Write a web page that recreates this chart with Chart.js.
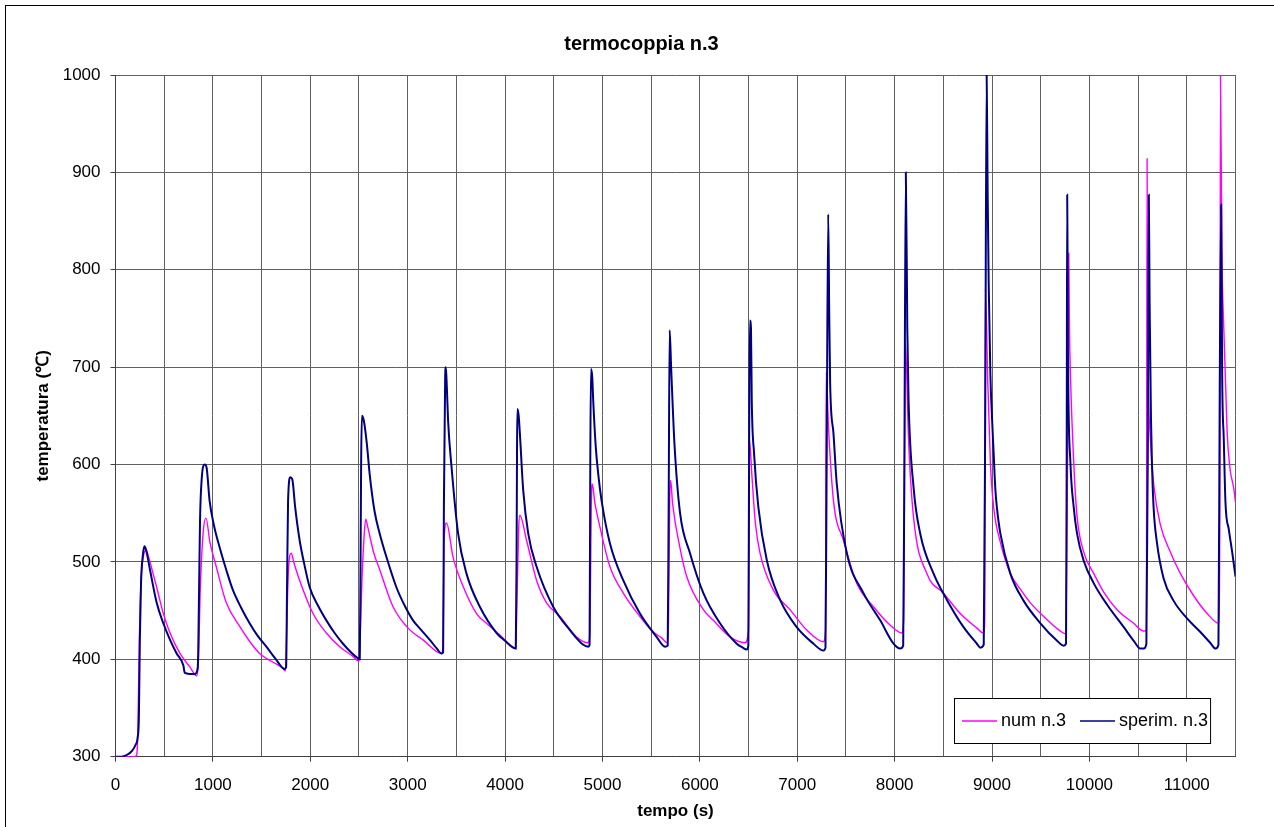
<!DOCTYPE html>
<html>
<head>
<meta charset="utf-8">
<title>termocoppia n.3</title>
<script src="https://cdn.jsdelivr.net/npm/chart.js@4.4.1/dist/chart.umd.min.js"></script>
<style>
  html, body { margin: 0; padding: 0; background: #fff; }
  #wrap { position: relative; width: 1274px; height: 827px; overflow: hidden; background: #fff; }
  #c { position: absolute; left: 0; top: 0; }
  #frame { position: absolute; left: 5px; top: 5px; width: 1400px; height: 1000px;
           border-left: 1px solid #000; border-top: 1px solid #000; pointer-events: none; }
</style>
</head>
<body>
<div id="wrap">
  <canvas id="c" width="1274" height="827"></canvas>
  <div id="frame"></div>
</div>
<script>
// Series labels
const seriesNames = ['num n.3', 'sperim. n.3'];

// Axis ranges and tick steps
const xRange = [0, 11500];
const xStep = 500;        // grid every 500 s
const xLabelStep = 1000;  // labels every 1000 s
const yRange = [300, 1000];
const yStep = 100;

// Numerical model (num n.3): time [s] and temperature [°C]
const numTime = [
  0, 200, 218, 230, 245, 262, 285, 315, 340, 354, 423, 491, 560, 662, 765, 834,
  852, 870, 900, 929, 970, 1035, 1138, 1274, 1380, 1480, 1600, 1717, 1745,
  1760, 1775, 1805, 1830, 1891, 2028, 2165, 2302, 2439, 2500,
  2512, 2530, 2555, 2569, 2590, 2650, 2713, 2850, 3004, 3158, 3347,
  3365, 3372, 3399, 3466, 3569, 3707, 3810, 3947, 4110,
  4120, 4140, 4152, 4221, 4324, 4426, 4563, 4735, 4854,
  4872, 4885, 4896, 4920, 4974, 5077, 5214, 5385, 5522, 5608, 5665,
  5678, 5690, 5700, 5720, 5797, 5865, 6036, 6139, 6310, 6464,
  6500, 6510, 6533, 6570, 6618, 6755, 6926, 7098, 7269,
  7290, 7297, 7321, 7372, 7475, 7612, 7783, 7955, 8074,
  8092, 8111, 8143, 8194, 8331, 8502, 8674, 8845, 8913,
  8925, 8932, 8955, 8983, 9017, 9086, 9188, 9291, 9394, 9531, 9702, 9760,
  9775, 9788, 9795, 9805, 9839, 9873, 9942, 10045, 10147, 10284, 10455, 10558, 10585,
  10592, 10599, 10627, 10661, 10729, 10832, 10935, 11072, 11209, 11329,
  11340, 11346, 11360, 11380, 11414, 11442, 11483, 11500
];
const numTemp = [
  300, 300, 302, 330, 420, 480, 505, 512, 505, 500, 474, 447, 427, 406, 392, 383,
  400, 470, 530, 545, 520, 495, 458, 434, 418, 406, 398, 391, 388,
  440, 490, 509, 500, 481, 447, 427, 413, 403, 398,
  420, 480, 530, 544, 536, 510, 492, 454, 432, 420, 406,
  420, 519, 540, 505, 475, 447, 437, 425, 411,
  450, 535, 548, 522, 481, 458, 444, 423, 417,
  430, 560, 580, 562, 536, 495, 468, 444, 428, 422, 417,
  440, 560, 584, 560, 514, 485, 451, 440, 423, 417,
  430, 625, 591, 540, 509, 471, 451, 430, 418,
  430, 695, 638, 563, 522, 478, 454, 435, 427,
  440, 724, 625, 546, 488, 468, 447, 432, 427,
  440, 780, 690, 602, 556, 520, 488, 472, 458, 444, 429, 426,
  600, 817, 740, 693, 602, 547, 510, 488, 469, 451, 437, 429, 430,
  914, 739, 625, 579, 538, 510, 488, 465, 447, 437,
  600, 1000, 820, 739, 634, 597, 575, 561
];

// Measured data (sperim. n.3): time [s] and temperature [°C]
const sperimTime = [
  0, 60, 120, 170, 205, 228, 240, 250, 262, 282, 298, 315, 354, 423, 491, 560, 628, 696, 712, 760, 816,
  845, 858, 868, 885, 915, 935, 966, 1010, 1069, 1140, 1206, 1290, 1377, 1460, 1549, 1640, 1737, 1752,
  1762, 1772, 1795, 1815, 1845, 1891, 1940, 1994, 2080, 2165, 2250, 2336, 2420, 2490, 2508,
  2515, 2522, 2530, 2550, 2580, 2610, 2660, 2713, 2782, 2884, 2970, 3055, 3140, 3227, 3300, 3347, 3364,
  3372, 3385, 3392, 3402, 3415, 3450, 3518, 3604, 3741, 3913, 4000, 4084, 4110,
  4118, 4123, 4127, 4140, 4152, 4186, 4238, 4324, 4494, 4666, 4803, 4854, 4868,
  4875, 4882, 4895, 4905, 4930, 4957, 4991, 5077, 5214, 5385, 5556, 5642, 5670,
  5680, 5690, 5705, 5740, 5797, 5899, 6036, 6207, 6379, 6440, 6481, 6498,
  6506, 6514, 6525, 6533, 6557, 6601, 6687, 6824, 6995, 7167, 7269, 7290,
  7302, 7318, 7328, 7338, 7372, 7406, 7509, 7680, 7852, 7989, 8057, 8088,
  8100, 8115, 8130, 8143, 8194, 8263, 8400, 8537, 8708, 8845, 8880, 8915,
  8930, 8945, 8955, 8966, 8983, 9000, 9017, 9034, 9050, 9086, 9188, 9325, 9497, 9668, 9735, 9760,
  9767, 9772, 9782, 9805, 9839, 9873, 9942, 10045, 10182, 10353, 10455, 10524, 10558, 10585,
  10600, 10610, 10618, 10632, 10642, 10659, 10693, 10762, 10865, 11002, 11139, 11240, 11295, 11325,
  11338, 11353, 11363, 11380, 11397, 11432, 11466, 11500
];
const sperimTemp = [
  300, 300, 302, 306, 312, 320, 340, 420, 478, 508, 516, 512, 492, 458, 437, 420, 406, 394, 386, 385, 385,
  392, 470, 543, 585, 600, 597, 563, 538, 515, 491, 471, 453, 437, 424, 413, 401, 390, 392,
  480, 563, 587, 585, 556, 522, 497, 474, 455, 440, 427, 416, 407, 401, 400,
  480, 600, 650, 645, 622, 590, 552, 529, 505, 474, 455, 440, 430, 420, 411, 406, 407,
  560, 690, 700, 680, 645, 598, 529, 488, 454, 427, 419, 412, 411,
  500, 620, 657, 650, 632, 574, 529, 495, 454, 430, 415, 413, 415,
  600, 698, 690, 666, 620, 590, 563, 519, 481, 447, 423, 413, 414,
  560, 738, 700, 620, 550, 509, 468, 437, 416, 412, 410, 414,
  620, 748, 740, 666, 611, 556, 502, 461, 433, 416, 409, 412,
  600, 857, 760, 683, 632, 580, 509, 468, 440, 416, 411, 414,
  600, 900, 740, 666, 577, 529, 488, 461, 433, 416, 412, 415,
  650, 1000, 880, 785, 693, 648, 611, 575, 556, 529, 488, 460, 437, 419, 414, 416,
  620, 877, 693, 602, 556, 529, 501, 478, 456, 433, 419, 411, 411, 416,
  620, 877, 767, 648, 602, 556, 520, 483, 460, 442, 428, 417, 411, 415,
  675, 867, 693, 625, 561, 533, 510, 485
];

const toPoints = (xs, ys) => xs.map((x, i) => ({ x: x, y: ys[i] }));

const FONT = "'Liberation Sans', Arial, Helvetica, sans-serif";
Chart.defaults.font.family = FONT;
Chart.defaults.color = '#000';

// Boxed legend drawn inside the lower-right corner of the plot area
const insideLegend = {
  id: 'insideLegend',
  afterDraw(chart) {
    const { ctx, chartArea } = chart;
    const sets = chart.data.datasets;
    ctx.save();
    ctx.font = '18px ' + FONT;
    const sample = 35, gapText = 4, gapItem = 14, padL = 8, padR = 2, h = 45;
    const widths = sets.map(d => ctx.measureText(d.label).width);
    let w = padL + padR + gapItem * (sets.length - 1);
    widths.forEach(tw => { w += sample + gapText + tw; });
    const right = Math.round(chartArea.right - 26);
    const bottom = Math.round(chartArea.bottom - 14);
    const left = Math.round(right - w);
    const top = bottom - h;
    ctx.fillStyle = '#fff';
    ctx.fillRect(left, top, w, h);
    ctx.strokeStyle = '#000';
    ctx.lineWidth = 1;
    ctx.strokeRect(left + 0.5, top + 0.5, w, h);
    const cy = top + h / 2 + 0.5;
    let x = left + padL;
    ctx.textBaseline = 'middle';
    ctx.textAlign = 'left';
    sets.forEach((d, i) => {
      ctx.strokeStyle = d.borderColor;
      ctx.lineWidth = 1.5;
      ctx.beginPath();
      ctx.moveTo(x, cy);
      ctx.lineTo(x + sample, cy);
      ctx.stroke();
      x += sample + gapText;
      ctx.fillStyle = '#000';
      ctx.fillText(d.label, x, cy);
      x += widths[i] + gapItem;
    });
    ctx.restore();
  }
};

new Chart(document.getElementById('c'), {
  type: 'line',
  data: {
    datasets: [
      {
        label: seriesNames[0],
        data: toPoints(numTime, numTemp),
        borderColor: '#FF00FF',
        borderWidth: 1.4,
        pointRadius: 0,
        cubicInterpolationMode: 'monotone',
        order: 1
      },
      {
        label: seriesNames[1],
        data: toPoints(sperimTime, sperimTemp),
        borderColor: '#000080',
        borderWidth: 2,
        pointRadius: 0,
        cubicInterpolationMode: 'monotone',
        order: 0
      }
    ]
  },
  options: {
    responsive: false,
    animation: false,
    devicePixelRatio: 1,
    events: [],
    layout: { padding: { left: 47.5, right: 38.5, top: 0, bottom: 0 } },
    plugins: {
      legend: { display: false },
      tooltip: { enabled: false },
      title: {
        display: true,
        text: 'termocoppia n.3',
        color: '#000',
        font: { size: 20, weight: 'bold' },
        padding: { top: 32.5, bottom: 18.5 }
      }
    },
    scales: {
      x: {
        type: 'linear',
        min: xRange[0],
        max: xRange[1],
        ticks: {
          stepSize: xStep,
          autoSkip: false,
          maxRotation: 0,
          minRotation: 0,
          padding: 13,
          font: { size: 17 },
          color: '#000',
          callback: v => (v % xLabelStep === 0 ? String(v) : '')
        },
        grid: {
          color: '#606060',
          lineWidth: 1,
          tickLength: 5,
          tickColor: c => (c.tick && c.tick.value % xLabelStep === 0 ? '#404040' : 'rgba(0,0,0,0)')
        },
        border: { color: '#404040', width: 1 },
        title: {
          display: true,
          text: 'tempo (s)',
          color: '#000',
          font: { size: 17, weight: 'bold' },
          padding: { top: 0, bottom: 5 }
        },
        afterFit: s => { s.height = 70.3; }
      },
      y: {
        type: 'linear',
        min: yRange[0],
        max: yRange[1],
        ticks: {
          stepSize: yStep,
          padding: 10,
          font: { size: 17 },
          color: '#000',
          callback: v => String(v)
        },
        grid: { color: '#606060', lineWidth: 1, tickLength: 5, tickColor: '#404040' },
        border: { color: '#404040', width: 1 },
        title: {
          display: true,
          text: 'temperatura (℃)',
          color: '#000',
          font: { size: 17, weight: 'bold' },
          padding: { top: -14.7, bottom: 0 }
        },
        afterFit: s => { s.width = 68; }
      }
    }
  },
  plugins: [insideLegend]
});
</script>
</body>
</html>
